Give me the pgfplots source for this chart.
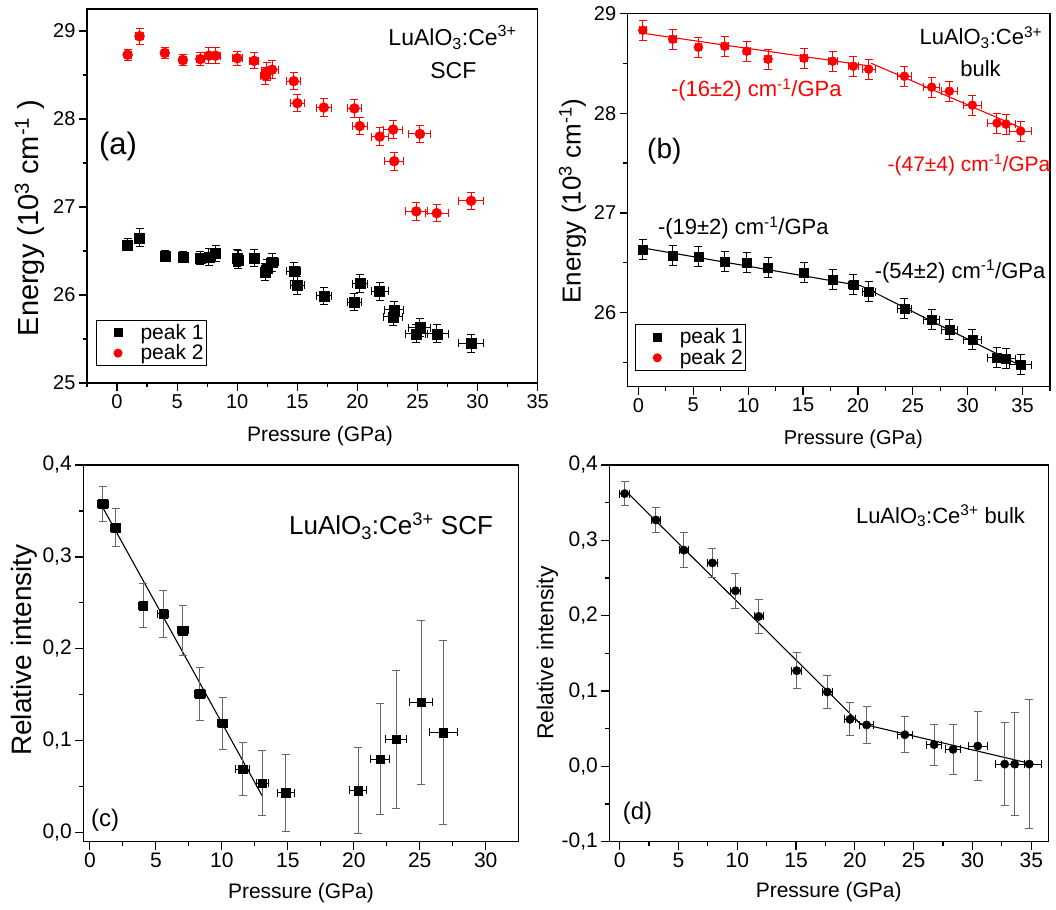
\documentclass[border=0pt]{standalone}
\usepackage{pgfplots}
\pgfplotsset{compat=1.18}
\usepackage{pgfplotstable}
\usepackage{fontspec}
\setmainfont{Liberation Sans}

\pgfplotstableread{
x y ex ey
0.88 26.57 0.3 0.07
1.87 26.65 0.3 0.1
3.97 26.44 0.3 0.06
5.47 26.43 0.3 0.06
6.93 26.42 0.35 0.07
7.65 26.43 0.35 0.1
8.20 26.47 0.4 0.09
10.00 26.42 0.4 0.1
10.10 26.40 0.4 0.1
11.40 26.42 0.4 0.1
12.35 26.26 0.45 0.1
12.50 26.30 0.45 0.1
12.90 26.37 0.5 0.1
14.70 26.27 0.58 0.1
15.00 26.11 0.6 0.1
17.20 25.99 0.64 0.1
19.75 25.92 0.6 0.1
20.20 26.13 0.64 0.1
21.85 26.04 0.7 0.1
22.97 25.75 0.76 0.1
23.06 25.83 0.8 0.1
24.90 25.56 0.9 0.1
25.20 25.63 0.92 0.1
26.60 25.56 0.97 0.1
29.46 25.45 1.03 0.1
}\aBlack

\pgfplotstableread{
x y ex ey
0.88 28.73 0.3 0.06
1.87 28.94 0.3 0.09
3.97 28.75 0.3 0.06
5.47 28.67 0.3 0.06
6.93 28.68 0.35 0.07
7.65 28.72 0.35 0.09
8.20 28.72 0.4 0.09
10.00 28.69 0.4 0.08
11.40 28.66 0.4 0.09
12.35 28.49 0.45 0.1
12.45 28.54 0.45 0.1
12.90 28.56 0.5 0.1
14.70 28.43 0.58 0.1
15.00 28.18 0.6 0.1
17.20 28.13 0.64 0.1
19.75 28.12 0.6 0.1
20.20 27.92 0.64 0.1
21.85 27.80 0.7 0.1
22.97 27.88 0.76 0.1
23.06 27.52 0.8 0.1
25.20 27.83 0.92 0.1
24.90 26.95 0.9 0.1
26.60 26.93 0.97 0.1
29.46 27.07 1.03 0.1
}\aRed

\pgfplotstableread{
x y ex ey
0.40 26.635 0.3 0.1
3.13 26.575 0.3 0.1
5.47 26.56 0.3 0.1
7.87 26.51 0.3 0.1
9.87 26.50 0.3 0.1
11.81 26.45 0.3 0.1
15.09 26.40 0.35 0.1
17.70 26.33 0.4 0.1
19.58 26.28 0.45 0.1
20.98 26.21 0.6 0.1
24.23 26.04 0.65 0.1
26.72 25.93 0.7 0.1
28.33 25.83 0.7 0.1
30.42 25.73 0.8 0.1
32.67 25.55 0.85 0.1
33.49 25.54 0.9 0.1
34.83 25.48 1.0 0.1
}\bBlack

\pgfplotstableread{
x y ex ey
0.40 28.83 0.3 0.1
3.13 28.74 0.3 0.1
5.47 28.66 0.3 0.1
7.87 28.67 0.3 0.1
9.87 28.62 0.3 0.1
11.81 28.54 0.3 0.1
15.09 28.55 0.35 0.1
17.70 28.52 0.4 0.1
19.58 28.47 0.45 0.1
20.98 28.44 0.6 0.1
24.23 28.37 0.65 0.1
26.72 28.26 0.7 0.1
28.33 28.22 0.7 0.1
30.42 28.08 0.8 0.1
32.67 27.90 0.85 0.1
33.49 27.89 0.9 0.1
34.83 27.82 1.0 0.1
}\bRed

\pgfplotstableread{
x y ex ey
0.99 0.358 0.4 0.019
1.95 0.332 0.4 0.021
4.04 0.247 0.35 0.024
5.56 0.238 0.4 0.026
7.05 0.220 0.4 0.027
8.34 0.151 0.4 0.029
10.06 0.119 0.4 0.028
11.58 0.069 0.53 0.029
13.06 0.054 0.45 0.035
14.83 0.0435 0.64 0.042
20.32 0.046 0.63 0.047
22.01 0.080 0.73 0.06
23.20 0.1015 0.82 0.075
25.10 0.1418 0.88 0.089
26.79 0.109 1.04 0.10
}\cData

\pgfplotstableread{
x y ex ey
0.42 0.362 0.4 0.016
3.08 0.327 0.4 0.016
5.46 0.287 0.4 0.023
7.89 0.270 0.4 0.019
9.85 0.233 0.4 0.023
11.83 0.199 0.4 0.022
15.05 0.127 0.4 0.024
17.66 0.0987 0.45 0.022
19.58 0.0624 0.5 0.022
21.00 0.0549 0.62 0.024
24.25 0.042 0.64 0.024
26.74 0.0288 0.65 0.027
28.35 0.0226 0.64 0.033
30.45 0.027 0.79 0.046
32.74 0.003 0.8 0.055
33.59 0.003 0.8 0.068
34.83 0.003 1.0 0.086
}\dData

\newcommand{\legfont}{\fontsize{21}{24}\selectfont}

\pgfplotsset{
  base/.style={
    scale only axis, anchor=south west, clip=false,
    axis line style={line width=1.2pt},
    every tick/.style={black, line width=1.2pt},
    tick align=outside, tick pos=left,
    major tick length=8pt, minor tick length=4.5pt,
    /pgf/number format/assume math mode=true,
  },
  commaticks/.style={yticklabel style={/pgf/number format/.cd, use comma, fixed, fixed zerofill, precision=1}},
  xyerr/.style={only marks,
    error bars/x dir=both, error bars/x explicit,
    error bars/y dir=both, error bars/y explicit,
    error bars/error bar style={line width=1pt},
    error bars/error mark options={rotate=90, mark size=4pt, line width=1pt}},
  yerrgray/.style={only marks, mark=none,
    error bars/y dir=both, error bars/y explicit,
    error bars/error bar style={line width=1pt, black!60},
    error bars/error mark options={rotate=90, mark size=4pt, line width=1pt, black!60}},
  xerrblk/.style={only marks,
    error bars/x dir=both, error bars/x explicit,
    error bars/error bar style={line width=1pt, black},
    error bars/error mark options={rotate=90, mark size=4pt, line width=1pt, black}},
  leg/.style={legend cell align=left,
    legend image code/.code={\path (0pt,-5pt) (40pt,5pt); \draw[##1, mark size=4pt] plot coordinates {(20pt,0pt)};},
    legend style={draw=black, line width=1pt, inner xsep=1pt, inner ysep=2pt, row sep=0pt}},
}

\begin{document}
\begin{tikzpicture}
\path[use as bounding box] (0,0) rectangle (1056pt,909pt);

% (a)
\begin{axis}[base, at={(87pt,526pt)}, width=450.7pt, height=374pt,
  xmin=-2.5, xmax=35, ymin=25, ymax=29.25,
  xtick={0,5,...,35}, minor xtick={-2.5,2.5,...,32.5},
  ytick={25,26,...,29}, minor ytick={25.5,26.5,...,28.5},
  tick label style={font=\fontsize{20}{24}\selectfont},
  leg, legend style={at={(axis description cs:0.02,0.0455)}, anchor=south west}]
\addplot[xyerr, black, mark=square*, mark size=5pt] table[x=x,y=y,x error=ex,y error=ey] \aBlack;
\addlegendentry{\legfont peak 1}
\addplot[xyerr, red, mark=*, mark size=5pt] table[x=x,y=y,x error=ex,y error=ey] \aRed;
\addlegendentry{\legfont peak 2}
\end{axis}

% (b)
\begin{axis}[base, at={(627.7pt,522.3pt)}, width=422.3pt, height=373.4pt,
  xmin=-0.97, xmax=37.5, ymin=25.26, ymax=29,
  xtick={0,5,...,35}, minor xtick={2.5,7.5,...,37.5},
  ytick={26,27,28,29}, minor ytick={25.5,26.5,...,28.5},
  tick label style={font=\fontsize{20}{24}\selectfont},
  leg, legend style={at={(axis description cs:0.018,0.043)}, anchor=south west}]
\addplot[black, line width=1.1pt, forget plot] coordinates {(0.4,26.65) (20.3,26.27) (35.2,25.45)};
\addplot[red, line width=1.1pt, forget plot] coordinates {(0.4,28.80) (21.2,28.47)};
\addplot[red, line width=1.1pt, forget plot] coordinates {(21.2,28.50) (34.9,27.85)};
\addplot[xyerr, black, mark=square*, mark size=4.5pt] table[x=x,y=y,x error=ex,y error=ey] \bBlack;
\addlegendentry{\legfont peak 1}
\addplot[xyerr, red, mark=*, mark size=4.5pt] table[x=x,y=y,x error=ex,y error=ey] \bRed;
\addlegendentry{\legfont peak 2}
\end{axis}

% (c)
\begin{axis}[base, commaticks, at={(83.3pt,67.3pt)}, width=435pt, height=376.7pt,
  xmin=-0.5, xmax=32.47, ymin=-0.0098, ymax=0.4,
  xtick={0,5,...,30}, minor xtick={2.5,7.5,...,27.5},
  ytick={0,0.1,...,0.4}, minor ytick={0.05,0.15,0.25,0.35},
  tick label style={font=\fontsize{21}{25}\selectfont}]
\addplot[black, line width=1.1pt] coordinates {(0.89,0.356) (13.06,0.040)};
\addplot[yerrgray] table[x=x,y=y,y error=ey] \cData;
\addplot[xerrblk, black, mark=square*, mark size=4.3pt] table[x=x,y=y,x error=ex] \cData;
\end{axis}

% (d)
\begin{axis}[base, commaticks, at={(609.3pt,67.3pt)}, width=439pt, height=376.7pt,
  xmin=-0.88, xmax=36.45, ymin=-0.1, ymax=0.4,
  xtick={0,5,...,35}, minor xtick={2.5,7.5,...,32.5},
  ytick={-0.1,0,0.1,0.2,0.3,0.4}, minor ytick={-0.05,0.05,0.15,0.25,0.35},
  tick label style={font=\fontsize{21}{25}\selectfont}]
\addplot[black, line width=1.1pt] coordinates {(0.42,0.367) (20.43,0.057) (34.86,0.004)};
\addplot[yerrgray] table[x=x,y=y,y error=ey] \dData;
\addplot[xerrblk, black, mark=*, mark size=4.2pt] table[x=x,y=y,x error=ex] \dData;
\end{axis}

% texts (a)
\node[anchor=base, font=\fontsize{23}{27}\selectfont] at (452.5pt,863.3pt) {LuAlO\textsubscript{3}:Ce\textsuperscript{3+}};
\node[anchor=base, font=\fontsize{23}{27}\selectfont] at (453.3pt,830.7pt) {SCF};
\node[font=\fontsize{31}{36}\selectfont] at (118pt,762.3pt) {(a)};
\node[anchor=base, font=\fontsize{21}{25}\selectfont] at (320pt,467.3pt) {Pressure (GPa)};
\node[anchor=base, rotate=90, font=\fontsize{29}{34}\selectfont] at (38pt,691pt) {Energy (10\textsuperscript{3} cm\textsuperscript{-1} )};

% texts (b)
\node[anchor=base, font=\fontsize{22}{26}\selectfont] at (980.8pt,864pt) {LuAlO\textsubscript{3}:Ce\textsuperscript{3+}};
\node[anchor=base, font=\fontsize{22}{26}\selectfont] at (980.5pt,832.3pt) {bulk};
\node[font=\fontsize{28}{33}\selectfont] at (664.3pt,757.3pt) {(b)};
\node[anchor=base, red, font=\fontsize{22}{26}\selectfont] at (756.3pt,812.3pt) {-(16±2) cm\textsuperscript{-1}/GPa};
\node[anchor=base, red, font=\fontsize{21}{25}\selectfont] at (969pt,737.3pt) {-(47±4) cm\textsuperscript{-1}/GPa};
\node[anchor=base, font=\fontsize{22}{26}\selectfont] at (743.3pt,674pt) {-(19±2) cm\textsuperscript{-1}/GPa};
\node[anchor=base, font=\fontsize{22}{26}\selectfont] at (960pt,630.7pt) {-(54±2) cm\textsuperscript{-1}/GPa};
\node[anchor=base, font=\fontsize{20}{24}\selectfont] at (853.3pt,464.7pt) {Pressure (GPa)};
\node[anchor=base, rotate=90, font=\fontsize{26}{31}\selectfont] at (580.7pt,708pt) {Energy (10\textsuperscript{3} cm\textsuperscript{-1})};

% texts (c)
\node[anchor=base, font=\fontsize{26}{31}\selectfont] at (391pt,374pt) {LuAlO\textsubscript{3}:Ce\textsuperscript{3+} SCF};
\node[font=\fontsize{24}{28}\selectfont] at (105pt,89pt) {(c)};
\node[anchor=base, font=\fontsize{21}{25}\selectfont] at (301pt,10.7pt) {Pressure (GPa)};
\node[anchor=base, rotate=90, font=\fontsize{28}{33}\selectfont] at (31.7pt,259pt) {Relative intensity};

% texts (d)
\node[anchor=base, font=\fontsize{22}{26}\selectfont] at (940.5pt,385.7pt) {LuAlO\textsubscript{3}:Ce\textsuperscript{3+} bulk};
\node[font=\fontsize{24}{28}\selectfont] at (637.5pt,95.7pt) {(d)};
\node[anchor=base, font=\fontsize{21}{25}\selectfont] at (828.7pt,12pt) {Pressure (GPa)};
\node[anchor=base, rotate=90, font=\fontsize{23}{27}\selectfont] at (553.3pt,256pt) {Relative intensity};
\end{tikzpicture}
\end{document}
